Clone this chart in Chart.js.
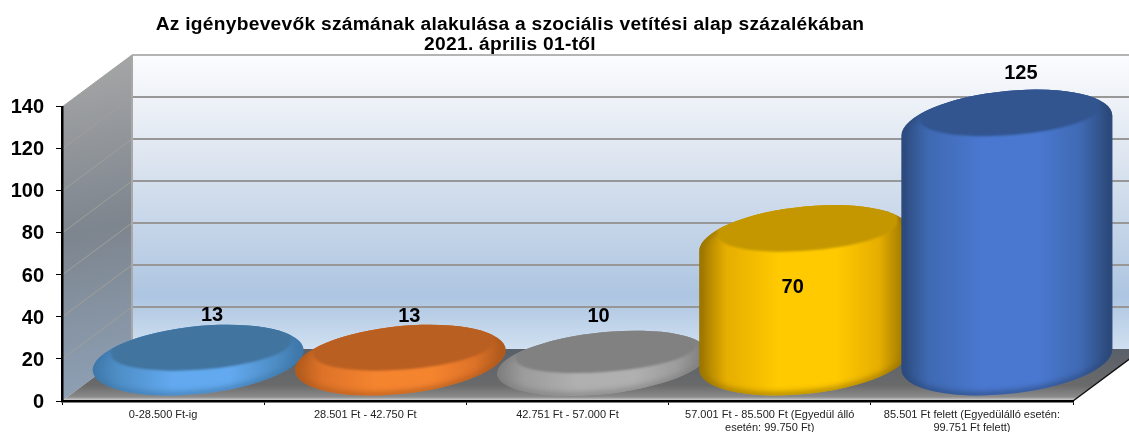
<!DOCTYPE html>
<html><head><meta charset="utf-8">
<style>html,body{margin:0;padding:0;background:#fff;overflow:hidden}canvas{display:block}</style>
<script src="https://cdn.jsdelivr.net/npm/chart.js@4"></script>
</head><body><canvas id="c" width="1129" height="432"></canvas>
<script>
const titleLines = ['Az igénybevevők számának alakulása a szociális vetítési alap százalékában', '2021. április 01-től'];
const categories = [
  '0-28.500 Ft-ig',
  '28.501 Ft - 42.750 Ft',
  '42.751 Ft - 57.000 Ft',
  ['57.001 Ft - 85.500 Ft (Egyedül álló', 'esetén: 99.750 Ft)'],
  ['85.501 Ft felett (Egyedülálló esetén:', '99.751 Ft felett)']
];
const values = [13, 13, 10, 70, 125];
const yMin = 0, yMax = 140, yStep = 20;

// styling
const DEPTH_X = 70, DEPTH_Y = 52;
const palettes = [
  {edge:'#3f78aa', mid:'#4f8fc8', bright:'#62a9ef', face:'#41749f'},
  {edge:'#b05a1d', mid:'#dd7228', bright:'#f5842f', face:'#b95f22'},
  {edge:'#7f7f7f', mid:'#9c9c9c', bright:'#b0b0b0', face:'#818181'},
  {edge:'#9a7400', mid:'#e6ae00', bright:'#ffca00', face:'#c49700'},
  {edge:'#2c4a7c', mid:'#3f69b2', bright:'#4a78d0', face:'#325590'}
];
const labelShift = [[49,-58],[44,-57],[31,-64],[23,33],[49,-65]];
const TILT = -6*Math.PI/180, B0 = 34.4, HALF = 36;

function drawCylinder(ctx){
  const i = this.$context.dataIndex, p = palettes[i];
  const x = this.x + DEPTH_X/2, a = this.width/2 + .5;
  const top = this.y - 49, bottom = this.base - 5, span = bottom - top;
  let cT, cB, b;
  if (span <= 2*HALF){ b = B0*span/(2*HALF); cT = cB = (top+bottom)/2; }
  else { cT = top+HALF; cB = bottom-HALF; b = B0; }
  const t0 = Math.atan(-(b/a)*Math.tan(TILT));
  const sil = new Path2D();
  sil.ellipse(x,cT,a,b,TILT,t0+Math.PI,t0+2*Math.PI);
  sil.ellipse(x,cB,a,b,TILT,t0,t0+Math.PI);
  sil.closePath();
  ctx.save();
  ctx.clip(sil);
  const g = ctx.createLinearGradient(x-a,0,x+a,0);
  g.addColorStop(0,p.edge); g.addColorStop(.13,p.mid);
  g.addColorStop(.38,p.bright); g.addColorStop(.65,p.bright); g.addColorStop(.85,p.mid);
  g.addColorStop(.98,p.edge); g.addColorStop(1,p.edge);
  ctx.fillStyle = g; ctx.fillRect(x-a-2,top-2,2*a+4,span+4);
  // soft edge
  ctx.save();
  ctx.filter = 'blur(3px)'; ctx.strokeStyle = p.edge; ctx.lineWidth = 5; ctx.stroke(sil);
  ctx.restore();
  // top face: lower boundary is an ellipse, everything above it up to the outline is face too
  ctx.save();
  ctx.filter = 'blur(1px)'; ctx.fillStyle = p.face;
  const fx = x+3, fy = cT-(b/B0)*12, fa = a*.85, fb = b*.63, fr = -4.5*Math.PI/180;
  const dx = fa*Math.cos(fr), dy = fa*Math.sin(fr);
  ctx.beginPath();
  ctx.ellipse(fx,fy,fa,fb,fr,0,2*Math.PI);
  ctx.moveTo(fx-dx,fy-dy);
  ctx.lineTo(fx-dx,fy-dy-80);
  ctx.lineTo(fx+dx,fy+dy-80);
  ctx.lineTo(fx+dx,fy+dy);
  ctx.closePath();
  ctx.fill('nonzero');
  ctx.restore();
  ctx.restore();
}

const wallsPlugin = {
  id:'walls',
  beforeDraw(chart){
    const {ctx, chartArea:ca, scales:{y}} = chart;
    const L = ca.left, R = ca.right, B = y.getPixelForValue(yMin), T = y.getPixelForValue(yMax);
    ctx.save();
    ctx.fillStyle = '#fff'; ctx.fillRect(0,0,chart.width,chart.height);
    // back wall
    let g = ctx.createLinearGradient(0,T-DEPTH_Y,0,B-DEPTH_Y);
    g.addColorStop(0,'#fbfcfe'); g.addColorStop(.35,'#dde5f0'); g.addColorStop(.82,'#adc5e1'); g.addColorStop(1,'#d0e0f1');
    ctx.fillStyle = g; ctx.fillRect(L+DEPTH_X,T-DEPTH_Y,R-L,B-T);
    // side wall
    g = ctx.createLinearGradient(L,T-DEPTH_Y,L+DEPTH_X,B);
    g.addColorStop(0,'#a8a8a8'); g.addColorStop(.5,'#7d858e'); g.addColorStop(1,'#8fa2b8');
    ctx.fillStyle = g;
    ctx.beginPath(); ctx.moveTo(L,T); ctx.lineTo(L+DEPTH_X,T-DEPTH_Y); ctx.lineTo(L+DEPTH_X,B-DEPTH_Y); ctx.lineTo(L,B); ctx.closePath(); ctx.fill();
    // floor
    g = ctx.createLinearGradient(0,B-DEPTH_Y,0,B);
    g.addColorStop(0,'#596069'); g.addColorStop(.7,'#6a6a6a'); g.addColorStop(.92,'#8a8a8a'); g.addColorStop(1,'#dedede');
    ctx.fillStyle = g;
    ctx.beginPath(); ctx.moveTo(L,B); ctx.lineTo(R,B); ctx.lineTo(R+DEPTH_X,B-DEPTH_Y); ctx.lineTo(L+DEPTH_X,B-DEPTH_Y); ctx.closePath(); ctx.fill();
    // grid
    y.ticks.forEach(t=>{
      const py = y.getPixelForValue(t.value);
      if (t.value === yMin) return;
      ctx.strokeStyle = '#a09f9a'; ctx.lineWidth = 1;
      ctx.beginPath(); ctx.moveTo(L,py); ctx.lineTo(L+DEPTH_X,py-DEPTH_Y); ctx.stroke();
      ctx.strokeStyle = t.value === yMax ? '#b4b4b4' : '#979797'; ctx.lineWidth = 2;
      ctx.beginPath(); ctx.moveTo(L+DEPTH_X,py-DEPTH_Y); ctx.lineTo(R+DEPTH_X,py-DEPTH_Y); ctx.stroke();
    });
    ctx.strokeStyle = '#a8a8a8'; ctx.lineWidth = 2;
    ctx.beginPath(); ctx.moveTo(L+DEPTH_X,T-DEPTH_Y); ctx.lineTo(L+DEPTH_X,B-DEPTH_Y); ctx.stroke();
    ctx.strokeStyle = '#111'; ctx.lineWidth = 1.5;
    ctx.beginPath(); ctx.moveTo(R,B); ctx.lineTo(R+DEPTH_X,B-DEPTH_Y); ctx.stroke();
    ctx.restore();
  },
  afterLayout(chart){
    const tb = chart.titleBlock;
    tb.left = 0; tb.right = 1020;
    if (!tb._spaced){
      const d = tb.draw;
      tb.draw = function(){
        const c = this.ctx, old = c.letterSpacing;
        c.letterSpacing = '0.27px';
        d.apply(this, arguments);
        c.letterSpacing = old;
      };
      tb._spaced = true;
    }
  },
  beforeDatasetsDraw(chart){
    chart.getDatasetMeta(0).data.forEach(el=>{ el.draw = drawCylinder; });
  },
  afterDatasetsDraw(chart){
    const {ctx} = chart;
    ctx.save();
    ctx.font = 'bold 20px "Liberation Sans"'; ctx.fillStyle = '#000';
    ctx.textAlign = 'center'; ctx.textBaseline = 'middle';
    chart.getDatasetMeta(0).data.forEach((el,i)=>{
      ctx.fillText(String(values[i]), el.x+labelShift[i][0], el.y+labelShift[i][1]);
    });
    ctx.restore();
  }
};

new Chart(document.getElementById('c'),{
  type:'bar',
  data:{labels:categories,datasets:[{data:values,categoryPercentage:1,barPercentage:1.043,clip:false,backgroundColor:palettes.map(p=>p.bright)}]},
  plugins:[wallsPlugin],
  options:{
    responsive:false,animation:false,
    layout:{padding:{left:0,right:56,top:0,bottom:0}},
    plugins:{
      legend:{display:false},tooltip:{enabled:false},
      title:{display:true,text:titleLines,color:'#000',align:'center',
        font:{family:'"Liberation Sans"',size:19.2,weight:'bold',lineHeight:1.08},
        padding:{top:14,bottom:51.5}}
    },
    scales:{
      x:{
        afterFit(s){s.height=31;},
        grid:{display:true,drawOnChartArea:false,color:'#000',tickLength:4,offset:true},
        border:{display:true,color:'#000',width:2.5},
        ticks:{color:'#222',font:{family:'"Liberation Sans"',size:11,lineHeight:1.15},padding:4,maxRotation:0,autoSkip:false}
      },
      y:{
        min:yMin,max:yMax,
        afterFit(s){s.width=62;},
        grid:{display:true,drawOnChartArea:false,color:'#000',tickLength:6},
        border:{display:true,color:'#000',width:2.5},
        ticks:{stepSize:yStep,color:'#000',font:{family:'"Liberation Sans"',size:20,weight:'bold'},padding:12,labelOffset:1}
      }
    }
  }
});
</script></body></html>
